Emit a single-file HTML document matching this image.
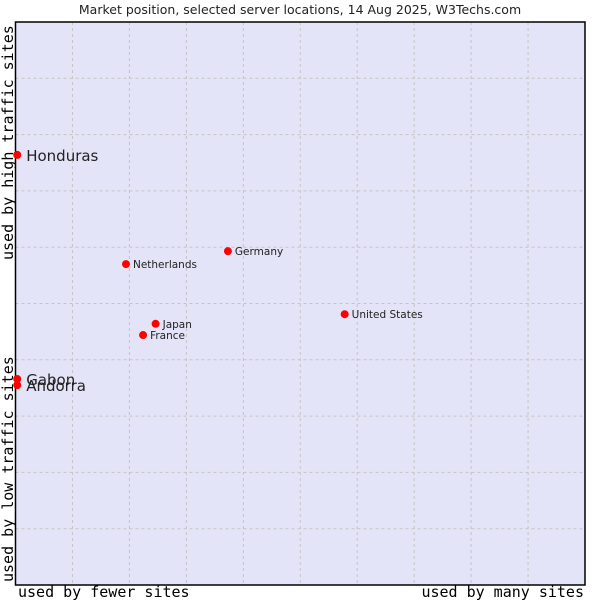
<!DOCTYPE html>
<html><head><meta charset="utf-8"><style>
html,body{margin:0;padding:0;background:#fff;}
svg{display:block;}
</style></head><body>
<svg id="chart" width="600" height="600" xmlns="http://www.w3.org/2000/svg">
<rect x="0" y="0" width="600" height="600" fill="#fff"/>
<text x="300" y="14" text-anchor="middle" font-family="'DejaVu Sans', sans-serif" font-size="12.5" fill="#222">Market position, selected server locations, 14 Aug 2025, W3Techs.com</text>
<rect x="15.5" y="22" width="569.5" height="563" fill="#e4e4f8"/>
<g id="grid"></g>
<rect x="15.5" y="22" width="569.5" height="563" fill="none" stroke="#000" stroke-width="1.5"/>
<g id="points"></g>
<text x="18" y="597" font-family="'DejaVu Sans Mono','Liberation Mono', monospace" font-size="15" fill="#000">used by fewer sites</text>
<text x="584" y="597" text-anchor="end" font-family="'DejaVu Sans Mono','Liberation Mono', monospace" font-size="15" fill="#000">used by many sites</text>
<text transform="translate(13,582) rotate(-90)" font-family="'DejaVu Sans Mono','Liberation Mono', monospace" font-size="15" fill="#000">used by low traffic sites</text>
<text transform="translate(13,260) rotate(-90)" font-family="'DejaVu Sans Mono','Liberation Mono', monospace" font-size="15" fill="#000">used by high traffic sites</text>
</svg>
<script>
const names = ["Honduras","Netherlands","Germany","United States","Japan","France","Gabon","Andorra"];
const xValues = [0.3,19.4,37.3,57.8,24.6,22.4,0.3,0.3];
const yValues = [76.4,57.0,59.3,48.1,46.4,44.4,36.6,35.5];
const bigLabel = [true,false,false,false,false,false,true,true];
const gridTicks = [10,20,30,40,50,60,70,80,90];

const X0=15.5, X1=585, Y0=585, Y1=22;
const sx = v => X0 + (X1-X0)*v/100;
const sy = v => Y0 - (Y0-Y1)*v/100;
const NS="http://www.w3.org/2000/svg";
const grid=document.getElementById('grid');
gridTicks.forEach(t=>{
  const v=document.createElementNS(NS,'line');
  v.setAttribute('x1',sx(t));v.setAttribute('x2',sx(t));v.setAttribute('y1',Y1);v.setAttribute('y2',Y0);
  v.setAttribute('stroke','#c4c4c4');v.setAttribute('stroke-dasharray','3,3');
  
  
  grid.appendChild(v);
  const h=document.createElementNS(NS,'line');
  h.setAttribute('y1',sy(t));h.setAttribute('y2',sy(t));h.setAttribute('x1',X0);h.setAttribute('x2',X1);
  h.setAttribute('stroke','#c4c4c4');h.setAttribute('stroke-dasharray','3,3');
  
  
  grid.appendChild(h);
});
const pts=document.getElementById('points');
names.forEach((n,i)=>{
  const cx=sx(xValues[i]), cy=sy(yValues[i]);
  const c=document.createElementNS(NS,'circle');
  c.setAttribute('cx',cx);c.setAttribute('cy',cy);c.setAttribute('r',4);c.setAttribute('fill','#f00');
  
  
  pts.appendChild(c);
  const t=document.createElementNS(NS,'text');
  t.setAttribute('x',cx+(bigLabel[i]?9:7));
  t.setAttribute('y',cy+(bigLabel[i]?6:4));
  t.setAttribute('font-family',"'DejaVu Sans', sans-serif");
  t.setAttribute('font-size',bigLabel[i]?'15':'10.5');
  t.setAttribute('fill','#222');
  t.textContent=n;
  
  
  pts.appendChild(t);
});
</script>
</body></html>
